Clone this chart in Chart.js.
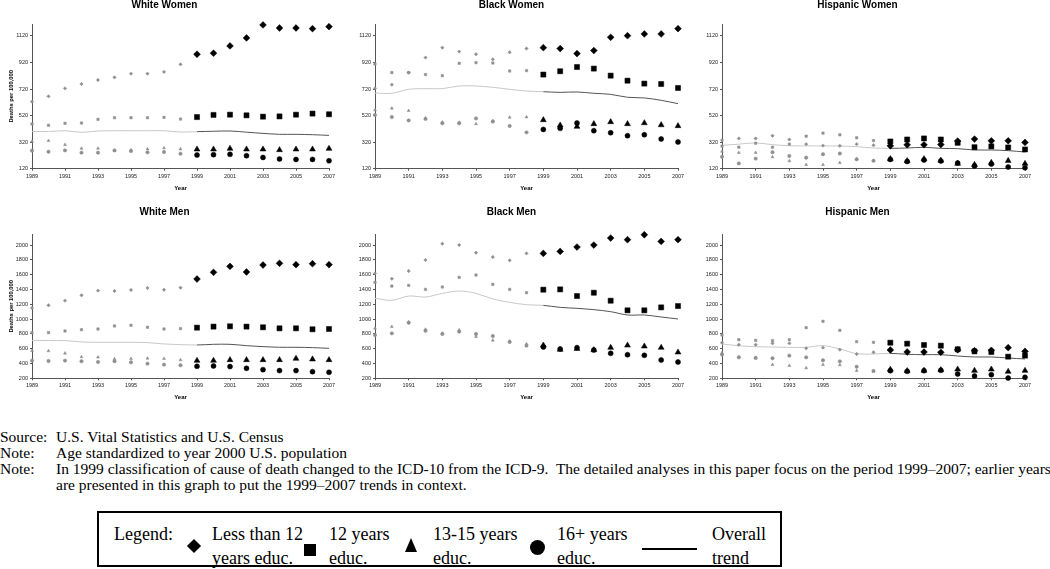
<!DOCTYPE html>
<html>
<head>
<meta charset="utf-8">
<script src="https://cdn.jsdelivr.net/npm/chart.js@4.4.0/dist/chart.umd.min.js"></script>
<style>
body { margin:0; background:#fff; width:1050px; height:569px; position:relative; overflow:hidden; font-family:"Liberation Serif", serif; color:#000; }
.panel { position:absolute; }
.fn { position:absolute; left:0; font-size:15.5px; line-height:16px; white-space:nowrap; }
.fn .lab { position:absolute; left:0; }
.fn .txt { position:absolute; left:56px; }
.lg { position:absolute; font-size:18px; line-height:24px; white-space:nowrap; top:522px; }
</style>
</head>
<body>

<div class="panel" style="left:0;top:0;width:345px;height:195px"><canvas id="ww"></canvas></div>
<div class="panel" style="left:345px;top:0;width:345px;height:195px"><canvas id="bw"></canvas></div>
<div class="panel" style="left:690px;top:0;width:350px;height:195px"><canvas id="hw"></canvas></div>
<div class="panel" style="left:0;top:207px;width:345px;height:195px"><canvas id="wm"></canvas></div>
<div class="panel" style="left:345px;top:207px;width:345px;height:195px"><canvas id="bm"></canvas></div>
<div class="panel" style="left:690px;top:207px;width:350px;height:195px"><canvas id="hm"></canvas></div>

<div class="fn" style="top:429px"><span class="lab">Source:</span><span class="txt">U.S. Vital Statistics and U.S. Census</span></div>
<div class="fn" style="top:445px"><span class="lab">Note:</span><span class="txt">Age standardized to year 2000 U.S. population</span></div>
<div class="fn" style="top:461px"><span class="lab">Note:</span><span class="txt">In 1999 classification of cause of death changed to the ICD-10 from the ICD-9.&nbsp; The detailed analyses in this paper focus on the period 1999–2007; earlier years</span></div>
<div class="fn" style="top:477px"><span class="txt">are presented in this graph to put the 1999–2007 trends in context.</span></div>

<div style="position:absolute;left:97px;top:511px;width:681px;height:52px;border:2px solid #000"></div>
<div class="lg" style="left:114px">Legend:</div>
<div style="position:absolute;left:189px;top:541px;width:10px;height:10px;background:#000;transform:rotate(45deg)"></div>
<div class="lg" style="left:212px">Less than 12<br>years educ.</div>
<div style="position:absolute;left:304px;top:544px;width:12px;height:12px;background:#000"></div>
<div class="lg" style="left:329px">12 years<br>educ.</div>
<div style="position:absolute;left:405px;top:538px;width:0;height:0;border-left:6.5px solid transparent;border-right:6.5px solid transparent;border-bottom:14px solid #000"></div>
<div class="lg" style="left:433px">13-15 years<br>educ.</div>
<div style="position:absolute;left:530px;top:540px;width:15px;height:15px;border-radius:50%;background:#000"></div>
<div class="lg" style="left:557px">16+ years<br>educ.</div>
<div style="position:absolute;left:642px;top:548px;width:55px;height:1.5px;background:#000"></div>
<div class="lg" style="left:712px">Overall<br>trend</div>

<script>
var years = [1989,1990,1991,1992,1993,1994,1995,1996,1997,1998,1999,2000,2001,2002,2003,2004,2005,2006,2007];
var yearTicks = [1989,1991,1993,1995,1997,1999,2001,2003,2005,2007];
var womenTicks = [120,320,520,720,920,1120];
var menTicks = [200,400,600,800,1000,1200,1400,1600,1800,2000];

// White women
var wwLess12 = [625,665,725,758,788,808,836,836,849,906,982,990,1045,1105,1203,1180,1180,1175,1190];
var ww12 = [457,447,462,464,492,504,504,504,507,494,509,525,527,522,512,514,527,535,530];
var ww1315 = [326,331,301,273,273,256,261,268,276,268,266,266,271,266,266,261,266,266,271];
var ww16 = [256,248,258,241,241,258,253,243,246,233,223,226,228,218,205,193,190,190,180];
var wwTrend = [401,400,406,394,404,406,406,406,406,396,399,402,404,395,386,379,379,376,371];

// Black women
var bwLess12 = [725,753,844,957,1032,1002,982,944,997,1025,1032,1025,987,1010,1110,1122,1135,1135,1175];
var bw12 = [909,844,844,829,821,914,919,916,856,859,829,854,886,874,821,783,761,758,728];
var bw1315 = [562,575,557,500,470,468,457,480,507,509,487,447,437,457,472,457,464,449,442];
var bw16 = [525,509,484,495,462,462,499,475,442,394,416,424,464,406,391,369,376,344,321];
var bwTrend = [690,688,718,723,723,743,743,733,718,705,700,695,698,688,680,658,653,635,610];

// Hispanic women
var hwLess12 = [335,348,348,368,340,305,294,292,305,297,292,300,300,302,328,343,330,330,318];
var hw12 = [290,282,312,282,305,365,388,375,353,332,325,340,348,340,315,282,288,280,265];
var hw1315 = [250,241,241,208,178,150,150,165,191,180,193,178,193,182,158,150,165,180,158];
var hw16 = [210,160,196,244,216,203,229,234,191,180,190,175,185,178,163,140,155,133,127];
var hwTrend = [296,305,314,301,293,292,291,291,286,276,273,276,281,273,271,261,261,256,246];

// White men
var wmLess12 = [1150,1186,1249,1321,1384,1379,1393,1420,1397,1424,1541,1631,1712,1636,1730,1753,1735,1748,1735];
var wm12 = [817,817,839,857,866,907,916,889,866,871,884,898,902,898,889,875,875,862,866];
var wm1315 = [574,569,538,488,484,461,466,470,466,448,439,439,448,448,448,448,466,457,448];
var wm16 = [439,434,439,430,421,430,416,398,385,376,362,367,358,335,317,304,304,290,281];
var wmTrend = [713,710,709,691,686,686,686,682,664,655,650,659,659,641,628,619,619,614,605];

// Black men
var bmLess12 = [1617,1545,1649,1797,2018,2000,1896,1838,1793,1887,1887,1914,1973,2000,2094,2072,2139,2049,2072];
var bm12 = [1496,1446,1455,1401,1433,1563,1595,1469,1401,1356,1397,1401,1311,1356,1248,1118,1118,1158,1176];
var bm1315 = [875,897,960,861,807,852,762,713,700,663,645,587,600,582,614,645,632,614,551];
var bm16 = [785,807,950,843,798,830,798,771,690,641,623,596,614,582,537,519,510,447,420];
var bmTrend = [1280,1253,1311,1298,1347,1379,1347,1271,1226,1194,1185,1158,1145,1127,1100,1055,1055,1028,1001];

// Hispanic men
var hmLess12 = [680,654,654,672,672,605,614,587,528,551,582,555,555,551,585,573,578,614,564];
var hm12 = [785,722,713,708,722,884,970,848,695,686,681,668,650,641,592,564,555,492,506];
var hm1315 = [545,490,480,384,371,339,384,380,303,294,318,300,305,312,321,303,321,290,303];
var hm16 = [520,483,474,470,506,483,443,429,357,300,303,294,303,308,258,231,249,204,213];
var hmTrend = [663,640,627,622,618,618,641,596,533,528,537,524,519,519,501,488,488,474,461];

var sans = "'Liberation Sans', Arial, sans-serif";

function pts(arr) {
    return years.map(function(y, i) { return {x: y, y: arr[i]}; });
}

// before 1999 (ICD-9) small grey markers, 1999 on big black ones
function marker(label, arr, shape, big) {
    var col = function(ctx) { return ctx.dataIndex < 10 ? '#8f8f8f' : '#000'; };
    return {
        label: label,
        data: pts(arr),
        showLine: false,
        pointStyle: shape,
        pointRadius: function(ctx) { return ctx.dataIndex < 10 ? 1.7 : big; },
        pointBackgroundColor: col,
        pointBorderColor: col,
        pointBorderWidth: 0.5,
        clip: false
    };
}

function makePanel(id, title, series, o) {
    new Chart(document.getElementById(id), {
        type: 'line',
        data: {
            datasets: [
                marker('Less than 12 years educ.', series[0], 'rectRot', 3.4),
                marker('12 years educ.', series[1], 'rect', 3.6),
                marker('13-15 years educ.', series[2], 'triangle', 3.4),
                marker('16+ years educ.', series[3], 'circle', 2.5),
                {
                    label: 'Overall trend',
                    data: pts(series[4]),
                    borderWidth: 1,
                    borderColor: '#c8c8c8',
                    pointRadius: 0,
                    tension: 0.35,
                    segment: {
                        borderColor: function(ctx) { return ctx.p0DataIndex >= 10 ? '#555' : '#c8c8c8'; }
                    }
                }
            ]
        },
        options: {
            responsive: true,
            maintainAspectRatio: false,
            animation: false,
            events: [],
            layout: { padding: { left: 0, right: o.pr, top: 0, bottom: 0 } },
            plugins: {
                legend: { display: false },
                tooltip: { enabled: false },
                title: {
                    display: true,
                    text: title,
                    color: '#000',
                    font: { family: sans, size: 10, weight: 'bold', lineHeight: 1 },
                    padding: { top: 0, bottom: o.tpb }
                }
            },
            scales: {
                x: {
                    type: 'linear',
                    min: 1989,
                    max: 2007,
                    afterBuildTicks: function(s) { s.ticks = yearTicks.map(function(v) { return {value: v}; }); },
                    afterFit: function(s) { s.height = o.xh; },
                    ticks: {
                        autoSkip: false,
                        maxRotation: 0,
                        padding: 2,
                        color: '#222',
                        font: { family: sans, size: 5.5 },
                        callback: function(v) { return String(v); }
                    },
                    grid: { drawOnChartArea: false, tickLength: 2, color: '#555' },
                    border: { display: true, color: '#555', width: 1 },
                    title: {
                        display: true,
                        text: 'Year',
                        color: '#000',
                        font: { family: sans, size: 6, weight: 'bold' },
                        padding: { top: 0, bottom: o.ypb }
                    }
                },
                y: {
                    min: o.ymin,
                    max: o.ymax,
                    afterBuildTicks: function(s) { s.ticks = o.ticks.map(function(v) { return {value: v}; }); },
                    afterFit: function(s) { s.width = o.yw; },
                    ticks: {
                        padding: 2,
                        color: '#222',
                        font: { family: sans, size: 5.5 },
                        callback: function(v) { return String(v); }
                    },
                    grid: { drawOnChartArea: false, tickLength: 2, color: '#555' },
                    border: { display: true, color: '#555', width: 1 },
                    title: {
                        display: o.ytitle,
                        text: 'Deaths per 100,000',
                        color: '#000',
                        font: { family: sans, size: 5.8, weight: 'bold' },
                        padding: { top: 8, bottom: 0 }
                    }
                }
            }
        }
    });
}

var topRow = { tpb: 14, xh: 26.3, ypb: 3.4, ymin: 120, ymax: 1210, ticks: womenTicks };
var botRow = { tpb: 17.3, xh: 23.7, ypb: 1.4, ymin: 200, ymax: 2145, ticks: menTicks };

function cfg(row, col) {
    var c = [
        { yw: 32, pr: 16, ytitle: true },
        { yw: 30, pr: 12, ytitle: false },
        { yw: 32, pr: 15, ytitle: false }
    ][col];
    return Object.assign({}, row, c);
}

makePanel('ww', 'White Women', [wwLess12, ww12, ww1315, ww16, wwTrend], cfg(topRow, 0));
makePanel('bw', 'Black Women', [bwLess12, bw12, bw1315, bw16, bwTrend], cfg(topRow, 1));
makePanel('hw', 'Hispanic Women', [hwLess12, hw12, hw1315, hw16, hwTrend], cfg(topRow, 2));
makePanel('wm', 'White Men', [wmLess12, wm12, wm1315, wm16, wmTrend], cfg(botRow, 0));
makePanel('bm', 'Black Men', [bmLess12, bm12, bm1315, bm16, bmTrend], cfg(botRow, 1));
makePanel('hm', 'Hispanic Men', [hmLess12, hm12, hm1315, hm16, hmTrend], cfg(botRow, 2));
</script>
</body>
</html>
